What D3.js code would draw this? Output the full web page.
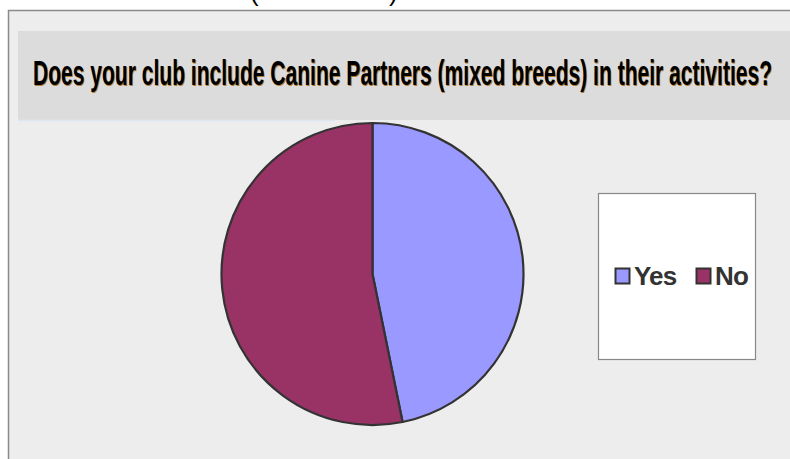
<!DOCTYPE html>
<html>
<head>
<meta charset="utf-8">
<script src="https://cdn.jsdelivr.net/npm/d3@7"></script>
<style>
  body { margin: 0; background: #fff; }
  svg { display: block; }
</style>
</head>
<body>
<div id="chart"></div>
<script>
const labels = ["Yes", "No"];
const values = [22, 25];
const colors = ["#9999ff", "#993366"];
const title = "Does your club include Canine Partners (mixed breeds) in their activities?";

const width = 790;
const height = 459;

const svg = d3
  .select("#chart")
  .append("svg")
  .attr("width", width)
  .attr("height", height);

// clipped text from above the crop
svg
  .append("text")
  .attr("x", 250)
  .attr("y", 1)
  .text("(")
  .style("font-family", "Liberation Sans Narrow, Arial Narrow, sans-serif")
  .style("font-size", "26px");
svg
  .append("text")
  .attr("x", 389)
  .attr("y", 1)
  .text(")")
  .style("font-family", "Liberation Sans Narrow, Arial Narrow, sans-serif")
  .style("font-size", "26px");

// chart area
svg
  .append("rect")
  .attr("x", 8.5)
  .attr("y", 10.5)
  .attr("width", 800)
  .attr("height", 470)
  .attr("fill", "#ededed")
  .attr("stroke", "#8a8a8a")
  .attr("stroke-width", 1.5);

// title band
svg
  .append("rect")
  .attr("x", 18)
  .attr("y", 31)
  .attr("width", 790)
  .attr("height", 89)
  .attr("fill", "#dcdcdc");
svg
  .append("line")
  .attr("x1", 18)
  .attr("x2", 335)
  .attr("y1", 120.5)
  .attr("y2", 120.5)
  .attr("stroke", "#dde6f2")
  .attr("stroke-width", 1.5);

// title is tall and condensed, so stretch it vertically
const titleText = (dx, dy, fill) =>
  svg
    .append("text")
    .attr("transform", `translate(${33 + dx},${85 + dy}) scale(1,1.18)`)
    .attr("textLength", 739)
    .attr("lengthAdjust", "spacingAndGlyphs")
    .attr("fill", fill)
    .style("font-family", "Liberation Sans Narrow, Arial Narrow, sans-serif")
    .style("font-weight", "bold")
    .style("font-size", "30px")
    .text(title);
titleText(0.8, 0.8, "#b07a30");
titleText(0, 0, "#000");

// pie
const cx = 372.5;
const cy = 274;
const radius = 151;

const pie = d3.pie().sort(null).value((d) => d);
const arc = d3.arc().innerRadius(0).outerRadius(radius);

svg
  .append("g")
  .attr("transform", `translate(${cx},${cy})`)
  .selectAll("path")
  .data(pie(values))
  .join("path")
  .attr("d", arc)
  .attr("fill", (d, i) => colors[i])
  .attr("stroke", "#333")
  .attr("stroke-width", 2.2)
  .attr("stroke-linejoin", "round");

// legend
const legend = svg.append("g");
legend
  .append("rect")
  .attr("x", 598.5)
  .attr("y", 193.5)
  .attr("width", 157)
  .attr("height", 166)
  .attr("fill", "#fff")
  .attr("stroke", "#888")
  .attr("stroke-width", 1.2);

const itemX = [615, 696];
const items = legend
  .selectAll("g.item")
  .data(labels)
  .join("g")
  .attr("class", "item")
  .attr("transform", (d, i) => `translate(${itemX[i]},268)`);

items
  .append("rect")
  .attr("x", 0.5)
  .attr("y", 0.5)
  .attr("width", 14)
  .attr("height", 15)
  .attr("fill", (d, i) => colors[i])
  .attr("stroke", "#333")
  .attr("stroke-width", 2);

items
  .append("text")
  .attr("x", 19)
  .attr("y", 17)
  .attr("fill", "#333")
  .style("font-family", "Liberation Sans, Arial, sans-serif")
  .style("font-weight", "bold")
  .style("font-size", "26px")
  .style("letter-spacing", "-0.8px")
  .text((d) => d);
</script>
</body>
</html>
